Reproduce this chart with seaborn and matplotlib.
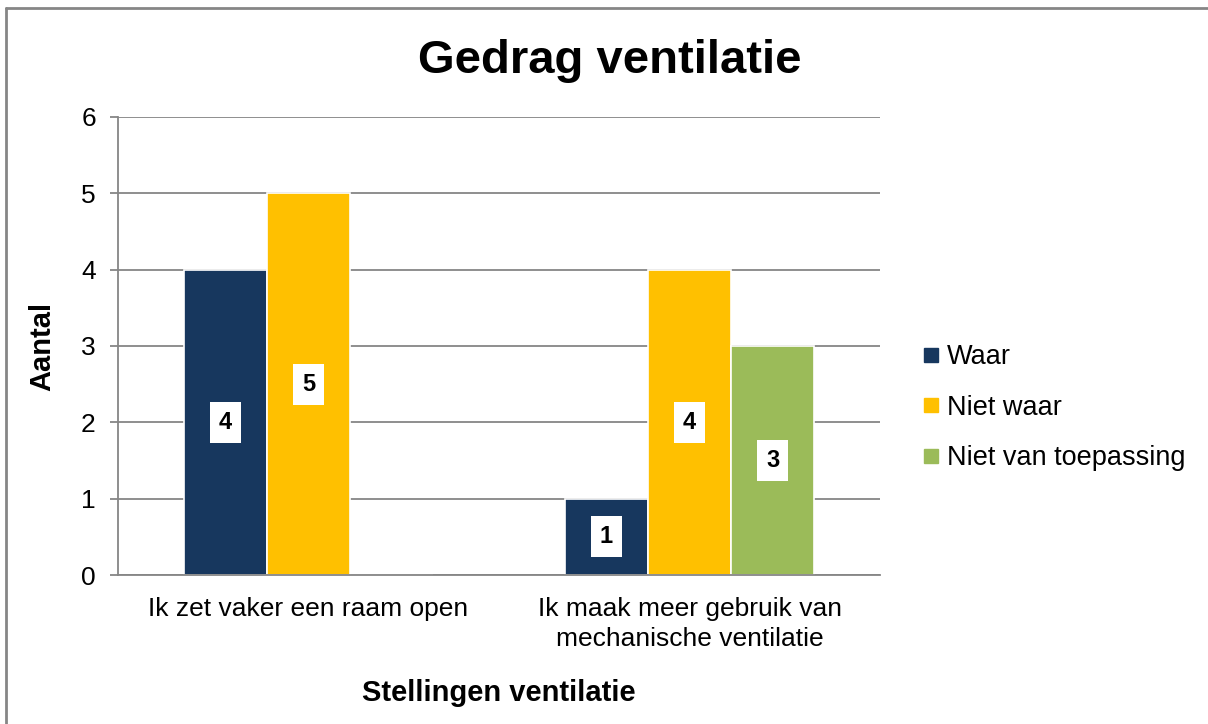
import pandas as pd
import matplotlib.pyplot as plt
import seaborn as sns
from matplotlib.lines import Line2D

categories = ["Ik zet vaker een raam open",
              "Ik maak meer gebruik van\nmechanische ventilatie"]
series = ["Waar", "Niet waar", "Niet van toepassing"]
waar = [4, 1]
niet_waar = [5, 4]
niet_van_toepassing = [0, 3]
colors = ["#17375E", "#FFC000", "#9BBB59"]

rows = []
for s, vals in zip(series, [waar, niet_waar, niet_van_toepassing]):
    for c, v in zip(categories, vals):
        rows.append({"Stelling": c, "Antwoord": s, "Aantal": v})
df = pd.DataFrame(rows)

sns.set_style("white")
plt.rcParams['font.family'] = ['Liberation Sans', 'DejaVu Sans']
plt.rcParams['text.color'] = 'black'
plt.rcParams['axes.labelcolor'] = 'black'
plt.rcParams['xtick.color'] = 'black'
plt.rcParams['ytick.color'] = 'black'

fig = plt.figure(figsize=(12.08, 7.24), dpi=100)
ax = fig.add_axes([0.0977, 0.2058, 0.6308, 0.6326])

sns.barplot(data=df, x="Stelling", y="Aantal", hue="Antwoord",
            palette=colors, saturation=1, width=0.654, ax=ax,
            edgecolor="white", linewidth=1.2, legend=False, zorder=3)

grey = "#868686"
ax.set_ylim(0, 6)
ax.set_yticks(range(0, 7))
ax.yaxis.grid(True, color=grey, linewidth=1.3, zorder=0)
ax.set_axisbelow(True)
for side in ["top", "right"]:
    ax.spines[side].set_visible(False)
ax.spines["left"].set_color(grey)
ax.spines["left"].set_linewidth(1.3)
ax.spines["bottom"].set_color(grey)
ax.spines["bottom"].set_linewidth(1.3)
ax.spines["bottom"].set_zorder(4)
ax.tick_params(axis="y", which="major", left=True, length=6, width=1.3,
               color=grey, labelcolor="black", labelsize=19, pad=10)
ax.tick_params(axis="x", bottom=False, labelsize=19, pad=12)
for lbl in ax.get_xticklabels():
    lbl.set_linespacing(1.35)

# value labels in white boxes
for cont in ax.containers:
    for bar in cont:
        h = bar.get_height()
        if h > 0:
            ax.text(bar.get_x() + bar.get_width() / 2, h / 2, f"{int(h)}",
                    ha="center", va="center", fontsize=17, fontweight="bold",
                    zorder=5,
                    bbox=dict(boxstyle="square,pad=0.38", fc="white", ec="none"))

ax.set_xlabel("Stellingen ventilatie", fontsize=21, fontweight="bold", labelpad=20)
ax.set_ylabel("Aantal", fontsize=21, fontweight="bold", labelpad=18)
fig.text(0.505, 0.916, "Gedrag ventilatie", ha="center", va="center",
         fontsize=34, fontweight="bold")

handles = [Line2D([], [], marker="s", linestyle="none", markersize=10,
                  markerfacecolor=c, markeredgecolor=c) for c in colors]
fig.legend(handles, series, loc="center left", bbox_to_anchor=(0.739, 0.437),
           frameon=False, fontsize=19.5, handletextpad=0.1, labelspacing=0.9,
           handlelength=1.0)

# outer chart border
fig.add_artist(Line2D([0.005, 0.005], [0, 0.989], transform=fig.transFigure,
                      color=grey, linewidth=2))
fig.add_artist(Line2D([0.005, 1], [0.989, 0.989], transform=fig.transFigure,
                      color=grey, linewidth=2))

fig.savefig("out.png", dpi=100)
